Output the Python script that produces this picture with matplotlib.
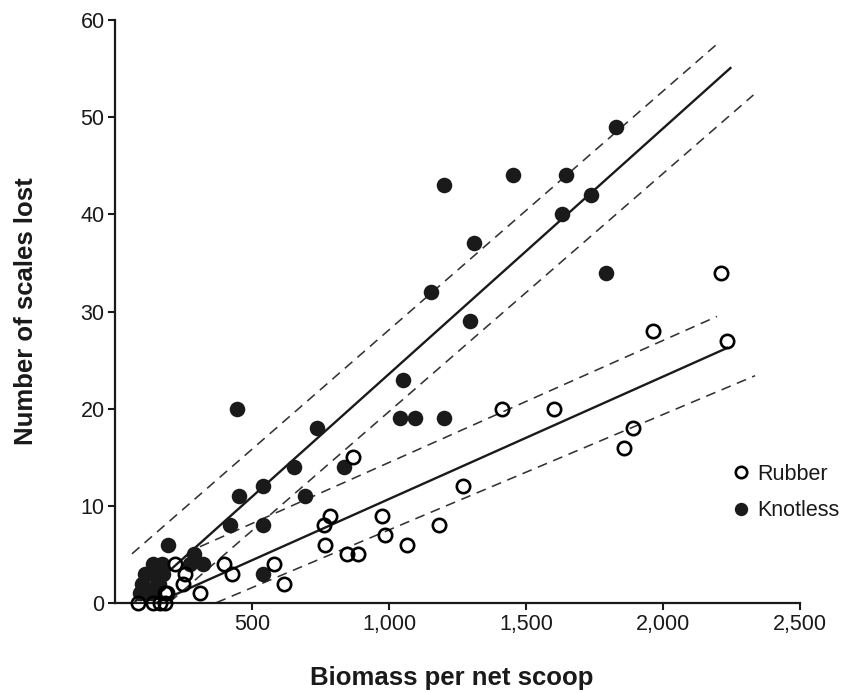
import matplotlib
matplotlib.use("Agg")
import matplotlib.pyplot as plt
from matplotlib.lines import Line2D
import numpy as np

plt.rcParams['font.family'] = ['Liberation Sans', 'DejaVu Sans']

# ---------------- data ----------------
knotless_x = [1828, 1201, 1453, 1646, 1737, 1631, 1310, 1792, 1153, 1296,
              1051, 1040, 1095, 1201, 445, 736, 653, 836, 541, 453,
              693, 420, 541, 193, 541, 290, 320, 275, 139, 171,
              118, 175, 109, 98, 153, 135, 91, 120, 150, 160]
knotless_y = [49, 43, 44, 44, 42, 40, 37, 34, 32, 29,
              23, 19, 19, 19, 20, 18, 14, 14, 12, 11,
              11, 8, 8, 6, 3, 5, 4, 4, 4, 4,
              3, 3, 3, 2, 2, 1, 1, 1, 3, 2]

rubber_x = [2212, 1964, 2233, 1412, 1602, 1891, 1858, 869, 1270, 785,
            974, 763, 1182, 985, 766, 1066, 846, 887, 398, 580,
            427, 617, 219, 255, 248, 310, 190, 182, 84, 139,
            164, 182]
rubber_y = [34, 28, 27, 20, 20, 18, 16, 15, 12, 9,
            9, 8, 8, 7, 6, 6, 5, 5, 4, 4,
            3, 2, 4, 3, 2, 1, 1, 1, 0, 0,
            0, 0]

# regression lines: intercept, slope, x-start, x-end
knot_fit   = [-1.7, 0.02527, 75, 2246]
knot_upper = [3.54, 0.02457, 62, 2192]
knot_lower = [-4.8, 0.0245, 200, 2330]
rub_fit    = [-1.9, 0.0126, 150, 2234]
rub_upper  = [1.9, 0.01256, 310, 2197]
rub_lower  = [-4.36, 0.01188, 370, 2336]

x_ticks = [500, 1000, 1500, 2000, 2500]
x_tick_labels = ["500", "1,000", "1,500", "2,000", "2,500"]
y_ticks = [0, 10, 20, 30, 40, 50, 60]
series_names = ["Rubber", "Knotless"]

# ---------------- figure ----------------
fig = plt.figure(figsize=(8.45, 6.93), dpi=100)
ax = fig.add_axes([115 / 845, 90 / 693, 685 / 845, 583 / 693])

ink = "#1a1a1a"

for p in (knot_fit, rub_fit):
    a, b, x0, x1 = p
    xs = np.array([x0, x1])
    ax.plot(xs, a + b * xs, '-', color=ink, lw=1.7, zorder=2, clip_on=False)
for p in (knot_upper, knot_lower, rub_upper, rub_lower):
    a, b, x0, x1 = p
    xs = np.array([x0, x1])
    ax.plot(xs, a + b * xs, color="#333333", lw=1.15, dashes=(6.2, 4.2),
            zorder=2, clip_on=False)

ax.plot(knotless_x, knotless_y, 'o', ms=11.2, mfc=ink, mec=ink, mew=0,
        zorder=3, clip_on=False)
ax.plot(rubber_x, rubber_y, 'o', ms=9.6, mfc='none', mec='black', mew=1.9,
        zorder=4, clip_on=False)

ax.set_xlim(0, 2500)
ax.set_ylim(0, 60)
ax.set_xticks(x_ticks)
ax.set_xticklabels(x_tick_labels)
ax.set_yticks(y_ticks)

for s in ('top', 'right'):
    ax.spines[s].set_visible(False)
for s in ('left', 'bottom'):
    ax.spines[s].set_linewidth(1.6)
    ax.spines[s].set_color(ink)

ax.tick_params(axis='both', direction='out', length=5, width=1.5,
               colors=ink, labelsize=15.5)
ax.tick_params(axis='x', pad=3)
ax.tick_params(axis='y', pad=2.5)

ax.set_xlabel("Biomass per net scoop", fontsize=18.5, fontweight='bold',
              color=ink)
ax.xaxis.set_label_coords(0.492, -0.141)
ax.xaxis.label.set_va('baseline')
ax.set_ylabel("Number of scales lost", fontsize=18.5, fontweight='bold',
              color=ink)
ax.yaxis.set_label_coords(-0.113, 0.5)

handles = [
    Line2D([], [], ls='none', marker='o', ms=8.2, mfc='none', mec='black',
           mew=1.9),
    Line2D([], [], ls='none', marker='o', ms=9.6, mfc=ink, mec=ink, mew=0),
]
ax.legend(handles, series_names, loc='upper left',
          bbox_to_anchor=(732 / 845, (693 - 464) / 693),
          bbox_transform=fig.transFigure, frameon=False, fontsize=15.5,
          handlelength=0.8, handletextpad=0.35, labelspacing=0.72,
          borderpad=0, borderaxespad=0, labelcolor=ink)

fig.savefig("out.png", dpi=100)
